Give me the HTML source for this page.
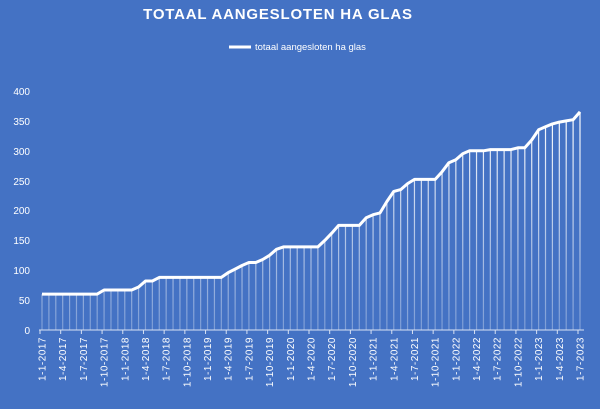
<!DOCTYPE html>
<html><head><meta charset="utf-8"><style>
body{margin:0;background:#4472C4;}
svg{display:block;font-family:"Liberation Sans",sans-serif;}
</style></head><body>
<svg width="600" height="409" xmlns="http://www.w3.org/2000/svg">
<defs><linearGradient id="g" gradientUnits="userSpaceOnUse" x1="0" y1="110" x2="0" y2="330">
<stop offset="0" stop-color="#fff" stop-opacity="1"/><stop offset="1" stop-color="#fff" stop-opacity="0.3"/></linearGradient></defs>
<rect width="600" height="409" fill="#4472C4"/>
<text x="278" y="19" fill="#fff" font-size="15" font-weight="bold" text-anchor="middle" letter-spacing="0.8">TOTAAL AANGESLOTEN HA GLAS</text>
<line x1="229" y1="47" x2="251" y2="47" stroke="#fff" stroke-width="3"/>
<text x="255" y="50" fill="#fff" font-size="9.5">totaal aangesloten ha glas</text>
<g fill="#fff" font-size="10" text-anchor="end">
<text x="30" y="95">400</text><text x="30" y="125">350</text><text x="30" y="155">300</text><text x="30" y="185">250</text><text x="30" y="214">200</text><text x="30" y="244">150</text><text x="30" y="274">100</text><text x="30" y="304">50</text><text x="30" y="334">0</text>
</g>
<g id="drops"></g>
<polyline id="line" fill="none" stroke="#fff" stroke-width="3" stroke-linejoin="round"/>
<line x1="39" y1="330" x2="584" y2="330" stroke="#d9e2f3" stroke-width="1"/>
<g id="ticks" stroke="#d9e2f3"></g>
<g id="labels" fill="#fff" font-size="10" letter-spacing="0.5"></g>
</svg>
<script>
var v=[60,60,60,60,60,60,60,60,60,67,67,67,67,67,72,82,82,88,88,88,88,88,88,88,88,88,88,96,102,108,113,113,118,125,135,139,139,139,139,139,139,150,162,175,175,175,175,188,193,196,215,232,235,245,252,252,252,252,265,280,285,295,300,300,300,302,302,302,302,305,305,318,335,340,345,348,350,352,365];
var ns="http://www.w3.org/2000/svg",pts=[],d=document.getElementById('drops');
function X(i){return 42+i*(538/78);}
for(var i=0;i<v.length;i++){var x=X(i),y=330-v[i]*0.5975;pts.push(x.toFixed(1)+','+y.toFixed(1));
var l=document.createElementNS(ns,'line');l.setAttribute('x1',x);l.setAttribute('x2',x);l.setAttribute('y1',y);l.setAttribute('y2',330);l.setAttribute('stroke','url(#g)');l.setAttribute('stroke-width','1.2');d.appendChild(l);}
document.getElementById('line').setAttribute('points',pts.join(' '));
var t=document.getElementById('ticks'),lb=document.getElementById('labels');
for(var i=0;i<v.length;i+=3){var x=X(i);
var tk=document.createElementNS(ns,'line');tk.setAttribute('x1',x-2);tk.setAttribute('x2',x-2);tk.setAttribute('y1',330);tk.setAttribute('y2',334);t.appendChild(tk);
var m=[1,4,7,10][(i/3)%4],yr=2017+Math.floor(i/12);
var tx=document.createElementNS(ns,'text');tx.setAttribute('transform','translate('+(x+3.5)+',337) rotate(-90)');tx.setAttribute('text-anchor','end');tx.textContent='1-'+m+'-'+yr;lb.appendChild(tx);}
</script>
</body></html>
